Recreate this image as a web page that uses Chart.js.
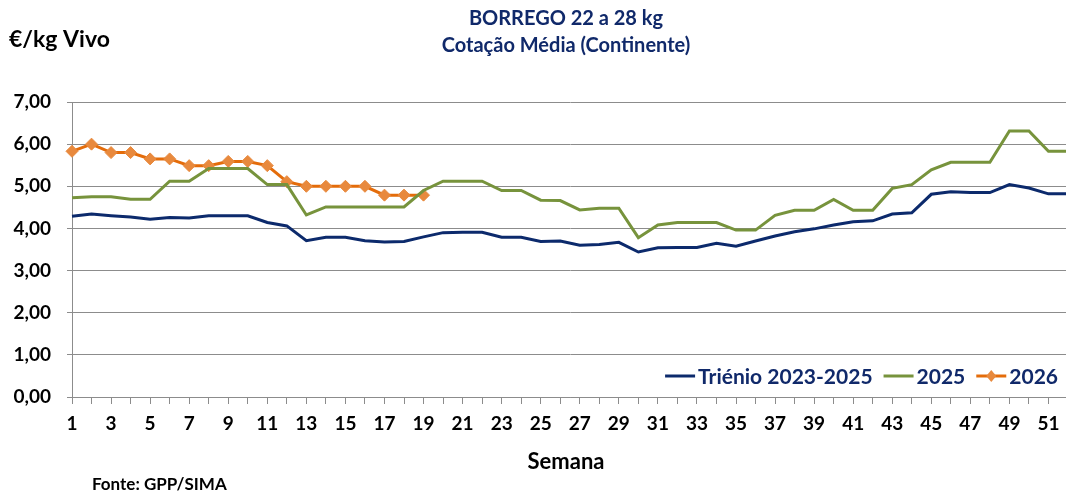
<!DOCTYPE html>
<html>
<head>
<meta charset="utf-8">
<script src="https://cdn.jsdelivr.net/npm/chart.js@4.4.1/dist/chart.umd.min.js"></script>
<style>
  html, body { margin: 0; padding: 0; background: #fff; overflow: hidden; }
  #wrap { width: 1066px; height: 498px; position: relative; overflow: hidden; }
</style>
</head>
<body>
<div id="wrap"><canvas id="myChart" width="1076" height="498"></canvas></div>
<script>
// semanas 1..52
const semanas = [1,2,3,4,5,6,7,8,9,10,11,12,13,14,15,16,17,18,19,20,21,22,23,24,25,26,
  27,28,29,30,31,32,33,34,35,36,37,38,39,40,41,42,43,44,45,46,47,48,49,50,51,52];

const trienio = [4.29,4.34,4.30,4.27,4.22,4.26,4.25,4.30,4.30,4.30,4.14,4.06,3.71,3.79,3.79,3.71,3.68,3.69,3.80,3.90,
  3.91,3.91,3.79,3.79,3.69,3.70,3.60,3.62,3.67,3.44,3.54,3.55,3.55,3.65,3.58,3.70,3.82,3.92,3.99,4.08,
  4.16,4.18,4.34,4.37,4.81,4.87,4.85,4.85,5.04,4.96,4.82,4.82];

const ano2025 = [4.73,4.75,4.75,4.69,4.69,5.12,5.12,5.42,5.42,5.42,5.04,5.04,4.32,4.51,4.51,4.51,4.51,4.51,4.90,5.12,
  5.12,5.12,4.90,4.90,4.67,4.66,4.44,4.48,4.48,3.78,4.08,4.14,4.14,4.14,3.96,3.96,4.31,4.43,4.43,4.69,
  4.43,4.43,4.95,5.04,5.39,5.57,5.57,5.57,6.31,6.31,5.83,5.83];

const ano2026 = [5.83,6.00,5.80,5.80,5.65,5.65,5.49,5.49,5.59,5.59,5.49,5.11,5.00,5.00,5.00,5.00,4.79,4.79,4.79];

const yTicks = [0,1,2,3,4,5,6,7];

const navy = '#0C2A6C';
const textNavy = '#10296A';
const green = '#77933C';
const orange = '#E46C0A';
const orangeMark = '#E8893D';
const gridGray = '#8C8C8C';
const fontFam = 'Lato, "Open Sans", sans-serif';

// textos fixos e legenda
const textosPlugin = {
  id: 'textos',
  afterDraw(chart) {
    const ctx = chart.ctx;
    ctx.save();
    ctx.textBaseline = 'middle';
    ctx.fillStyle = textNavy;
    ctx.textAlign = 'center';
    ctx.font = 'bold 20px ' + fontFam;
    ctx.fillText('BORREGO 22 a 28 kg', 566, 19);
    ctx.fillText('Cotação Média (Continente)', 566, 46);

    ctx.fillStyle = '#000';
    ctx.textAlign = 'left';
    ctx.font = 'bold 23px ' + fontFam;
    ctx.fillText('€/kg Vivo', 9, 40);

    ctx.textAlign = 'center';
    ctx.font = 'bold 22px ' + fontFam;
    ctx.fillText('Semana', 566, 462);

    ctx.textAlign = 'left';
    ctx.font = 'bold 17px ' + fontFam;
    ctx.fillText('Fonte: GPP/SIMA', 92, 485);

    // legenda, alinhada a direita
    ctx.font = 'bold 21px ' + fontFam;
    const sets = chart.data.datasets;
    let x = 1058;
    const y = 376;
    for (let i = sets.length - 1; i >= 0; i--) {
      const ds = sets[i];
      const w = ctx.measureText(ds.label).width;
      ctx.fillStyle = textNavy;
      ctx.textAlign = 'right';
      ctx.fillText(ds.label, x, y + 1);
      x -= w + 3;
      ctx.strokeStyle = ds.borderColor;
      ctx.lineWidth = 3;
      ctx.beginPath();
      ctx.moveTo(x - 30, y);
      ctx.lineTo(x, y);
      ctx.stroke();
      if (ds.pointRadius > 0) {
        const cx = x - 15;
        ctx.fillStyle = ds.pointBackgroundColor;
        ctx.beginPath();
        ctx.moveTo(cx, y - 6);
        ctx.lineTo(cx + 5, y);
        ctx.lineTo(cx, y + 6);
        ctx.lineTo(cx - 5, y);
        ctx.closePath();
        ctx.fill();
      }
      x -= 30 + 11;
    }
    ctx.restore();
  }
};

const data = {
  labels: semanas,
  datasets: [{
    label: 'Triénio 2023-2025',
    data: trienio,
    borderColor: navy,
    borderWidth: 3,
    pointRadius: 0,
    tension: 0
  }, {
    label: '2025',
    data: ano2025,
    borderColor: green,
    borderWidth: 3,
    pointRadius: 0,
    tension: 0
  }, {
    label: '2026',
    data: ano2026,
    borderColor: orange,
    borderWidth: 3,
    pointStyle: 'rectRot',
    pointRadius: 6,
    pointBackgroundColor: orangeMark,
    pointBorderColor: orangeMark,
    pointBorderWidth: 1,
    tension: 0
  }]
};

const config = {
  type: 'line',
  data: data,
  options: {
    responsive: false,
    animation: false,
    layout: { padding: { top: 102, right: 0, left: 0, bottom: 0 } },
    plugins: {
      legend: { display: false },
      tooltip: { enabled: false }
    },
    scales: {
      x: {
        offset: false,
        afterFit: (scale) => { scale.height = 101; },
        grid: {
          drawOnChartArea: false,
          drawTicks: true,
          tickLength: 7,
          color: gridGray
        },
        border: { color: gridGray, width: 1 },
        ticks: {
          autoSkip: false,
          maxRotation: 0,
          padding: 8,
          color: '#000',
          font: { family: fontFam, size: 19, weight: 'bold' },
          callback: function(val, i) {
            const w = semanas[i];
            return (w % 2 === 1) ? String(w) : '';
          }
        }
      },
      y: {
        min: 0,
        max: 7,
        afterFit: (scale) => { scale.width = 72; },
        afterBuildTicks: (scale) => { scale.ticks = yTicks.map(v => ({ value: v })); },
        grid: {
          color: gridGray,
          lineWidth: 1,
          tickLength: 5
        },
        border: { color: gridGray, width: 1 },
        ticks: {
          padding: 16,
          color: '#000',
          font: { family: fontFam, size: 19, weight: 'bold' },
          callback: (v) => v.toFixed(2).replace('.', ',')
        }
      }
    }
  },
  plugins: [textosPlugin]
};

const myChart = new Chart(document.getElementById('myChart'), config);
</script>
</body>
</html>
